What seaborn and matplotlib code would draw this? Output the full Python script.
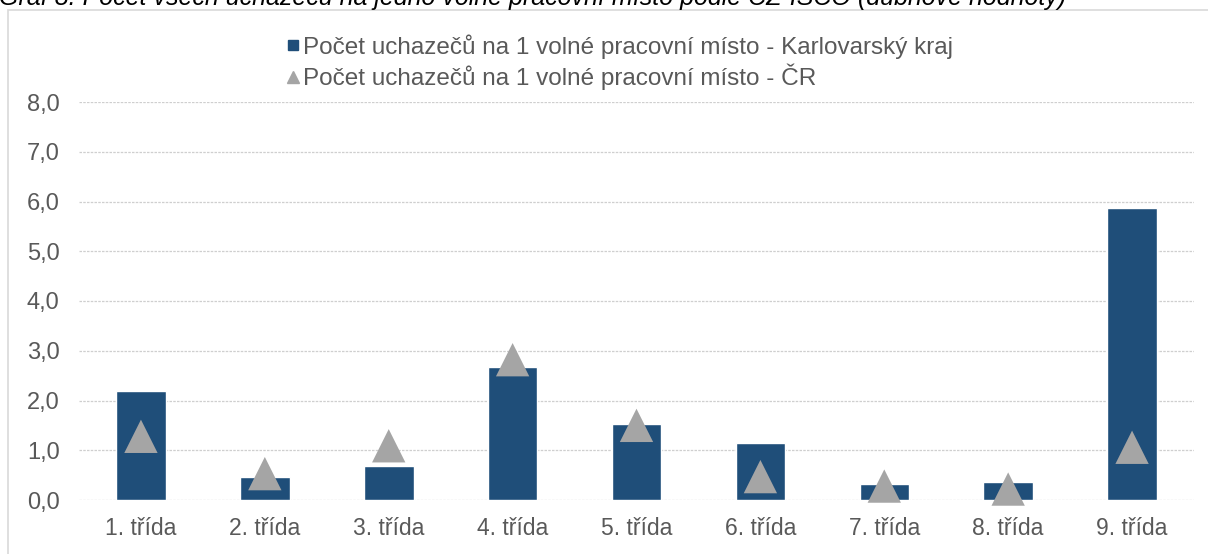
import matplotlib
matplotlib.use("Agg")
import matplotlib.pyplot as plt
from matplotlib.lines import Line2D
from matplotlib.patches import Rectangle
import pandas as pd
import seaborn as sns

# Data
CATEGORIES = ["1. třída", "2. třída", "3. třída", "4. třída", "5. třída",
              "6. třída", "7. třída", "8. třída", "9. třída"]
KRAJ = [2.2, 0.46, 0.69, 2.68, 1.53, 1.15, 0.33, 0.36, 5.87]
CR = [1.28, 0.53, 1.09, 2.82, 1.50, 0.47, 0.28, 0.22, 1.06]

LABEL_KRAJ = "Počet uchazečů na 1 volné pracovní místo - Karlovarský kraj"
LABEL_CR = "Počet uchazečů na 1 volné pracovní místo - ČR"
TITLE = "Graf 8: Počet všech uchazečů na jedno volné pracovní místo podle CZ-ISCO (dubnové hodnoty)"

BLUE = "#1F4E79"
GREY = "#A5A5A5"
TEXT = "#595959"

sns.set_theme(style="white")
plt.rcParams["font.family"] = ["Liberation Sans", "DejaVu Sans"]

df = pd.DataFrame({"trida": CATEGORIES, "kraj": KRAJ, "cr": CR})

fig = plt.figure(figsize=(12.08, 5.54), dpi=100)
W, H = 1208, 554
ax = fig.add_axes([79 / W, 1 - 500 / H, (1194 - 79) / W, (500 - 102) / H])

sns.barplot(data=df, x="trida", y="kraj", color=BLUE, saturation=1,
            width=0.4, ax=ax, zorder=2)
sns.scatterplot(data=df, x="trida", y="cr", marker="^", s=24 ** 2,
                color=GREY, edgecolor="none", ax=ax, zorder=3, clip_on=False)

ax.set_ylim(0, 8)
ax.set_xlim(-0.5, 8.5)
ax.set_yticks(range(0, 9))
ax.set_yticklabels([f"{v},0" for v in range(0, 9)])
ax.set_xlabel("")
ax.set_ylabel("")
ax.grid(axis="y", color="#CFCFCF", linestyle=(0, (2, 1)), linewidth=0.9, zorder=0)
ax.set_axisbelow(True)
for s in ax.spines.values():
    s.set_visible(False)
ax.tick_params(axis="both", length=0, colors=TEXT)
ax.tick_params(axis="y", pad=14, labelsize=17)
ax.tick_params(axis="x", pad=12, labelsize=16.5)

# chart frame like the Excel chart area
fig.patches.append(Rectangle((8 / W, -0.05), 1.1, 1 - 10 / H + 0.05,
                             transform=fig.transFigure, fill=False,
                             edgecolor="#D9D9D9", linewidth=1.2))

# title, clipped at the top of the image
fig.text(-0.001, 1 - 5 / H, TITLE, fontsize=18, style="italic",
         color="black", va="baseline", ha="left")

handles = [
    Line2D([], [], marker="s", linestyle="none", color=BLUE, markersize=7),
    Line2D([], [], marker="^", linestyle="none", color=GREY, markersize=8),
]
fig.legend(handles, [LABEL_KRAJ, LABEL_CR], loc="upper left",
           bbox_to_anchor=(274 / W, 1 - 22 / H), frameon=False,
           fontsize=17.5, labelcolor=TEXT, handlelength=0.6,
           handletextpad=0.1, labelspacing=0.2, borderpad=0)

fig.savefig("out.png", dpi=100)
